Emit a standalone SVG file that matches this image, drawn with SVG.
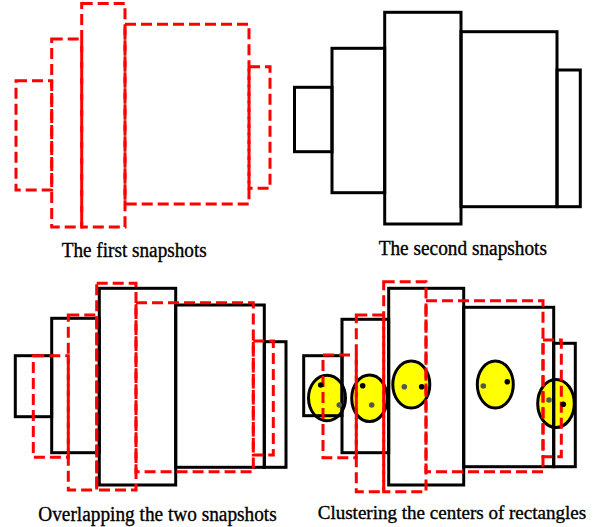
<svg xmlns="http://www.w3.org/2000/svg" width="594" height="527" viewBox="0 0 594 527">
  <style>
    .red { fill: none; stroke: #ff0000; stroke-width: 3; stroke-dasharray: 11 5; }
    .blk { fill: none; stroke: #000; stroke-width: 3; }
    .blob { fill: #ffff00; stroke: #000; stroke-width: 3; }
    .dk { fill: #000; }
    .gr { fill: #555; }
    .cap { font-family: "Liberation Serif", "Times New Roman", serif; font-size: 20px; fill: #000; stroke: #000; stroke-width: 0.35; }
    .cap-s { font-size: 18.5px; }
  </style>
  <rect width="594" height="527" fill="#fff"/>

  <!-- First snapshot: dashed red rectangles -->
  <g id="snapshot1">
    <rect class="red" x="16" y="80.7" width="35.7" height="109.3"/>
    <rect class="red" x="51.7" y="39" width="30" height="188"/>
    <rect class="red" x="81.7" y="3.5" width="43.3" height="223.5"/>
    <rect class="red" x="125" y="24.3" width="124" height="179.7"/>
    <rect class="red" x="249" y="66.7" width="21" height="121.6"/>
  </g>

  <!-- Second snapshot: solid black rectangles -->
  <g id="snapshot2">
    <rect class="blk" x="294.5" y="87.3" width="37.5" height="64.4"/>
    <rect class="blk" x="332" y="48.3" width="52.7" height="144.4"/>
    <rect class="blk" x="384.7" y="12.3" width="76.3" height="211.7"/>
    <rect class="blk" x="461" y="31.7" width="96" height="175"/>
    <rect class="blk" x="557" y="70" width="23.3" height="136.7"/>
  </g>

  <!-- Both snapshots overlaid -->
  <g id="overlap">
    <rect class="blk" x="15.3" y="355.7" width="36.4" height="61"/>
    <rect class="blk" x="51.7" y="318.3" width="47.6" height="134.4"/>
    <rect class="blk" x="99.3" y="288.3" width="76.4" height="196.7"/>
    <rect class="blk" x="175.7" y="305" width="88.6" height="162.3"/>
    <rect class="blk" x="264.3" y="341.7" width="21.7" height="125.6"/>
    <rect class="red" x="33.3" y="355.7" width="35" height="101.6"/>
    <rect class="red" x="68.3" y="315" width="28.4" height="175"/>
    <rect class="red" x="96.7" y="283.3" width="39.3" height="206.7"/>
    <rect class="red" x="136" y="302.7" width="117.3" height="169"/>
    <rect class="red" x="253.3" y="341" width="20" height="114"/>
  </g>

  <!-- Overlay with clustered rectangle centres -->
  <g id="clusters">
    <ellipse class="blob" cx="327" cy="398" rx="18.5" ry="22.8"/>
    <ellipse class="blob" cx="369.5" cy="398.3" rx="17.8" ry="23.3"/>
    <ellipse class="blob" cx="411.3" cy="384.5" rx="18.5" ry="23.6"/>
    <ellipse class="blob" cx="495.3" cy="384.5" rx="18" ry="23.6"/>
    <ellipse class="blob" cx="556" cy="403.5" rx="18.3" ry="24"/>
    <rect class="blk" x="303.7" y="355.7" width="38.3" height="60"/>
    <rect class="blk" x="342" y="319.3" width="46.7" height="133.4"/>
    <rect class="blk" x="388.7" y="288.3" width="75" height="196.7"/>
    <rect class="blk" x="463.7" y="307.3" width="90" height="159.4"/>
    <rect class="blk" x="553.7" y="343.3" width="21.6" height="123.4"/>
    <rect class="red" x="323" y="355" width="33.3" height="102.7"/>
    <rect class="red" x="356.3" y="315" width="27.4" height="176.7"/>
    <rect class="red" x="383.7" y="281.7" width="42.3" height="210"/>
    <rect class="red" x="426" y="300.7" width="117" height="171"/>
    <rect class="red" x="543" y="340" width="18.3" height="116.7"/>
    <circle class="dk" cx="320.7" cy="385" r="2.8"/>
    <circle class="gr" cx="339.3" cy="405" r="2.8"/>
    <circle class="dk" cx="362.7" cy="385.7" r="2.8"/>
    <circle class="gr" cx="371.7" cy="405" r="2.8"/>
    <circle class="gr" cx="404.3" cy="386.7" r="2.8"/>
    <circle class="dk" cx="421.7" cy="386.7" r="2.8"/>
    <circle class="gr" cx="483.3" cy="386" r="2.8"/>
    <circle class="dk" cx="507.3" cy="381.7" r="2.8"/>
    <circle class="gr" cx="549" cy="400" r="2.8"/>
    <circle class="dk" cx="563.3" cy="404.3" r="2.8"/>
  </g>

  <!-- Captions -->
  <g id="captions">
    <text class="cap" x="61.7" y="256.5" textLength="145" lengthAdjust="spacingAndGlyphs">The first snapshots</text>
    <text class="cap" x="378.7" y="255" textLength="168.3" lengthAdjust="spacingAndGlyphs">The second snapshots</text>
    <text class="cap" x="38.3" y="520.5" textLength="238.4" lengthAdjust="spacingAndGlyphs">Overlapping the two snapshots</text>
    <text class="cap cap-s" x="317.7" y="519.3" textLength="268.5" lengthAdjust="spacingAndGlyphs">Clustering the centers of rectangles</text>
  </g>
</svg>
